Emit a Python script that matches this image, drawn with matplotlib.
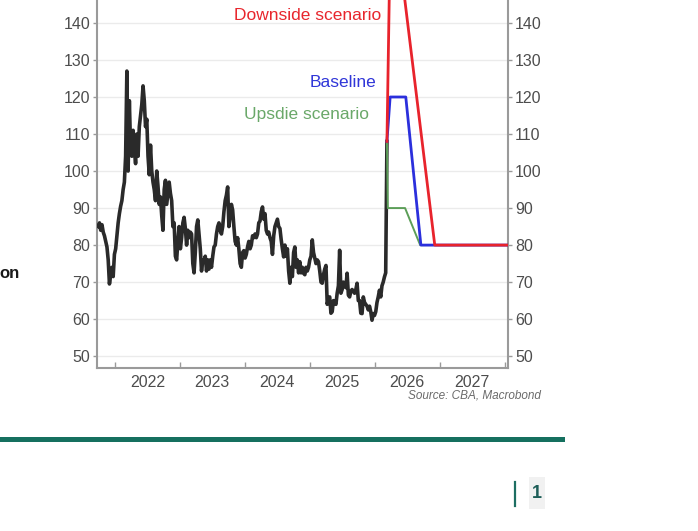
import matplotlib
matplotlib.use("Agg")
import matplotlib.pyplot as plt
import matplotlib.dates as mdates
from matplotlib.lines import Line2D
from matplotlib.patches import Rectangle
import pandas as pd

plt.rcParams['font.family'] = ['Liberation Sans', 'DejaVu Sans']

# ---------------- data ----------------
brent_start = "2021-09-27"   # weekly observations (Mondays)
brent_weekly = [
    85,                                   # Sep 2021
    86, 84, 85.5, 83.5,                   # Oct 2021
    82.5, 81, 79.5, 76, 69.5,             # Nov 2021
    72, 74, 71.5, 77.5,                   # Dec 2021
    79, 82.5, 86, 88.5, 90.5,             # Jan 2022
    92, 95, 97, 104,                      # Feb 2022
    127, 100, 119, 106,                   # Mar 2022
    104, 111, 106, 102,                   # Apr 2022
    110, 104, 112, 115, 118,              # May 2022
    123, 119, 112, 114,                   # Jun 2022
    104, 99, 107, 100,                    # Jul 2022
    97, 95, 92, 100, 96,                  # Aug 2022
    91, 93, 88, 84,                       # Sep 2022
    95, 97.5, 91, 94, 97,                 # Oct 2022
    94, 92, 85, 86,                       # Nov 2022
    77, 76, 81, 85,                       # Dec 2022
    79, 82, 86, 87.5, 84.5,               # Jan 2023
    80, 84, 82, 83.5,                     # Feb 2023
    83, 75, 72.5, 78,                     # Mar 2023
    85, 86.8, 83, 79,                     # Apr 2023
    73, 76, 75.5, 77, 73,                 # May 2023
    76, 73.5, 76, 74,                     # Jun 2023
    77, 79.5, 80, 83, 85,                 # Jul 2023
    86, 84, 83, 85,                       # Aug 2023
    89, 92, 93.5, 95.7,                   # Sep 2023
    85, 88, 91, 89.5, 85,                 # Oct 2023
    81, 80, 82, 79,                       # Nov 2023
    75, 74, 78, 78.5,                     # Dec 2023
    76.5, 77.5, 79.5, 81, 79,             # Jan 2024
    80, 82.5, 82, 83,                     # Feb 2024
    82, 83, 86, 86.5,                     # Mar 2024
    89, 90.3, 87, 88.5, 84,               # Apr 2024
    83, 83.5, 82, 81,                     # May 2024
    77.5, 82.5, 85, 86,                   # Jun 2024
    87, 85, 84.5, 81.5, 79,               # Jul 2024
    76.8, 80, 77, 79,                     # Aug 2024
    73, 69.7, 74, 71.5, 78,               # Sep 2024
    79.5, 74, 76, 72.5,                   # Oct 2024
    75.5, 72.5, 74, 72.4,                 # Nov 2024
    72, 74, 73, 74, 76,                   # Dec 2024
    77, 81.4, 78, 76.5,                   # Jan 2025
    75, 76, 75.5, 73,                     # Feb 2025
    70, 69.7, 72, 73.5, 74.5,             # Mar 2025
    64, 65.5, 66, 61.6,                   # Apr 2025
    62, 65, 64.5, 64,                     # May 2025
    67, 69, 78.6, 67, 68,                 # Jun 2025
    70, 69, 68.5, 72.4,                   # Jul 2025
    66.5, 66, 67.5, 68,                   # Aug 2025
    67.5, 67, 68, 69.7, 65,               # Sep 2025
    65, 61.6, 61.5, 66,                   # Oct 2025
    64.5, 64, 63.5, 62.5,                 # Nov 2025
    63.5, 62, 59.7, 61.5, 61,             # Dec 2025
    62, 64.5, 66, 67.8,                   # Jan 2026
    66, 69, 70, 71.4,                     # Feb 2026
    72.5,                                 # Mar 2026
]
spike_date = "2026-03-09"
spike_value = 108

upside_dates = ["2026-03-09", "2026-03-14", "2026-06-19", "2026-09-12", "2028-01-19"]
upside = [108, 90, 90, 80, 80]
baseline_dates = ["2026-03-09", "2026-03-27", "2026-06-23", "2026-09-16", "2028-01-19"]
baseline = [108, 120, 120, 80, 80]
downside_dates = ["2026-03-09", "2026-03-23", "2026-06-08", "2026-12-03", "2028-01-19"]
downside = [108, 150, 150, 80, 80]

y_ticks = [50, 60, 70, 80, 90, 100, 110, 120, 130, 140]
year_labels = ["2022", "2023", "2024", "2025", "2026", "2027"]

# ---------------- figure ----------------
W, H = 698, 531
fig = plt.figure(figsize=(W / 100, H / 100), dpi=100)
fig.patch.set_facecolor("white")
ax = fig.add_axes([97 / W, 163 / H, 411 / W, 368 / H])

dates = list(pd.date_range(brent_start, periods=len(brent_weekly), freq="7D"))
dates.append(pd.Timestamp(spike_date))
vals = list(brent_weekly) + [spike_value]

ax.plot(dates, vals, color="#2a2a2a", lw=2.6, solid_joinstyle="round", zorder=3)
ax.plot(pd.to_datetime(upside_dates), upside, color="#5c9e58", lw=1.4, zorder=4)
ax.plot(pd.to_datetime(baseline_dates), baseline, color="#2b2fdc", lw=2.0, zorder=5)
ax.plot(pd.to_datetime(downside_dates), downside, color="#e8232c", lw=2.0, zorder=6)

ax.set_ylim(46.8, 146.2)
ax.set_xlim(pd.Timestamp("2021-09-20"), pd.Timestamp("2028-01-19"))

ax.set_yticks(y_ticks)
ax.yaxis.grid(True, color="#ebebeb", lw=1.0)
ax.set_axisbelow(True)

ax.xaxis.set_major_locator(mdates.YearLocator())
ax.xaxis.set_major_formatter(plt.NullFormatter())
mids = [pd.Timestamp(f"{y}-07-01") for y in year_labels]
ax.set_xticks(mids, labels=year_labels, minor=True)

for s in ["left", "right", "bottom"]:
    ax.spines[s].set_color("#9a9a9a")
    ax.spines[s].set_linewidth(1.5)
ax.spines["top"].set_visible(False)

ax.tick_params(axis="y", which="major", direction="out", length=3, width=1,
               color="#9a9a9a", labelcolor="#4d4d4d", labelsize=11.5,
               left=True, right=True, labelleft=True, labelright=True, pad=2)
ax.tick_params(axis="x", which="major", direction="in", length=4, width=1,
               color="#9a9a9a", labelbottom=False)
ax.tick_params(axis="x", which="minor", length=0, labelsize=11.5,
               labelcolor="#4d4d4d", pad=5)

# scenario labels
fig.text(381 / W, 1 - 15 / H, "Downside scenario", color="#e8262d", fontsize=12.5,
         ha="right", va="center")
fig.text(376 / W, 1 - 82 / H, "Baseline", color="#3036d8", fontsize=12.5,
         ha="right", va="center")
fig.text(369 / W, 1 - 114 / H, "Upsdie scenario", color="#6aa869", fontsize=12.5,
         ha="right", va="center")

fig.text(541 / W, 1 - 396 / H, "Source: CBA, Macrobond", style="italic",
         color="#6b6b6b", fontsize=8.5, ha="right", va="center")

# slide decorations
fig.add_artist(Line2D([0, 562 / W], [1 - 438.5 / H] * 2, color="#15705f", lw=3.6))
fig.add_artist(Line2D([515 / W] * 2, [1 - 482 / H, 1 - 506 / H], color="#1d6e62", lw=1.6))
fig.add_artist(Rectangle((529 / W, 1 - 509 / H), 16 / W, 32 / H,
                         transform=fig.transFigure, facecolor="#f1f1f1", edgecolor="none"))
fig.text(537 / W, 1 - 493 / H, "1", fontweight="bold", color="#1d5e58", fontsize=13,
         ha="center", va="center")
fig.text(-1 / W, 1 - 273 / H, "on", fontweight="bold", color="#1a1a1a", fontsize=12,
         ha="left", va="center")

fig.savefig("out.png", dpi=100)
